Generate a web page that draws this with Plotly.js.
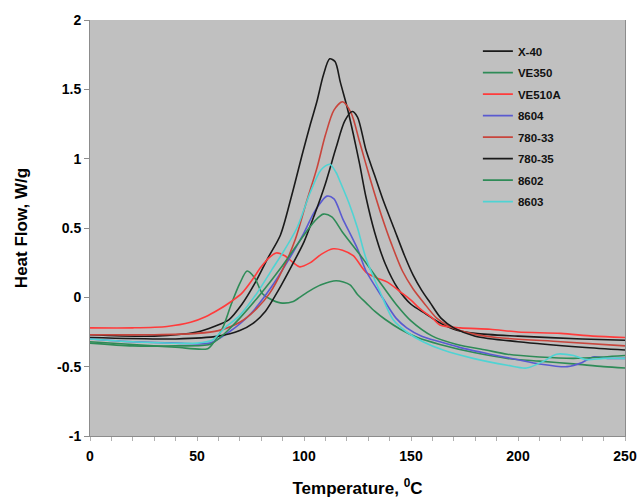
<!DOCTYPE html>
<html><head><meta charset="utf-8">
<script src="https://cdn.plot.ly/plotly-3.0.1.min.js"></script>
<style>html,body{margin:0;padding:0;background:#fff}#chart{width:638px;height:498px}</style>
</head><body><div id="chart"></div>
<script>
const seriesNames = ["X-40","VE350","VE510A","8604","780-33","780-35","8602","8603"];
const seriesColors = ["#1a1a1a","#2e8b57","#ff3b3b","#5a5ad0","#c8453c","#1a1a1a","#2e8b57","#4fd3d3"];

const x40_T = [0,30,50,58,65,71,77,83,89,94,99.5,103,106,109,112,114.5,117,120,123,126,129,133,138,144,150,157,163,170,180,200,230,250];
const x40_H = [-0.27,-0.28,-0.25,-0.21,-0.16,-0.05,0.1,0.28,0.45,0.72,1.05,1.25,1.41,1.6,1.72,1.7,1.55,1.38,1.18,0.96,0.72,0.47,0.24,0.06,-0.05,-0.12,-0.18,-0.23,-0.26,-0.28,-0.3,-0.31];

const ve350_T = [0,20,40,55,58,62,66,70,73.4,77,80.4,84,89,95,98,103,108,115,121.5,125,129,133,138,145,153,163.5,180,195,210,226,240,250];
const ve350_H = [-0.32,-0.34,-0.36,-0.37,-0.32,-0.22,-0.05,0.1,0.19,0.14,0.03,-0.01,-0.04,-0.03,0.0,0.05,0.09,0.12,0.09,0.02,-0.04,-0.1,-0.16,-0.23,-0.29,-0.34,-0.4,-0.44,-0.46,-0.48,-0.5,-0.51];

const ve510_T = [0,20,36,47,54,60,66,71,76,80,84,87,91,95,98,103,108,113.6,118,123,129,134,139,145,150,154,160,163.5,173,187,200,220,235,250];
const ve510_H = [-0.22,-0.22,-0.21,-0.18,-0.14,-0.09,-0.03,0.03,0.13,0.22,0.29,0.32,0.3,0.25,0.22,0.25,0.31,0.35,0.34,0.3,0.18,0.14,0.11,0.04,-0.02,-0.08,-0.15,-0.2,-0.22,-0.23,-0.25,-0.26,-0.28,-0.29];

const b8604_T = [0,20,40,56,65,75,85,92,99.5,105,110.7,114,118,125,129,137,143,148,155,163.5,175,187,200,210,223,230,235,242,250];
const b8604_H = [-0.3,-0.32,-0.33,-0.33,-0.25,-0.12,0.08,0.25,0.45,0.62,0.73,0.71,0.57,0.35,0.19,-0.01,-0.15,-0.22,-0.28,-0.32,-0.37,-0.41,-0.45,-0.48,-0.5,-0.47,-0.43,-0.44,-0.44];

const m33_T = [0,30,50,60,70,78,84,90,96,101,106,110,114,118,122,126,131,136,141,146,151,156,162,168,178,190,220,250];
const m33_H = [-0.27,-0.27,-0.26,-0.24,-0.18,-0.08,0.03,0.2,0.42,0.68,0.93,1.17,1.35,1.41,1.33,1.12,0.85,0.6,0.38,0.19,0.06,-0.04,-0.15,-0.21,-0.26,-0.29,-0.32,-0.35];

const m35_T = [0,40,60,70,76,82,88,94,100,105,110,115,119,122.5,125,129,133,137,142,147,151,155,159,164,170,180,200,230,250];
const m35_H = [-0.29,-0.3,-0.28,-0.24,-0.19,-0.1,0.05,0.22,0.4,0.6,0.82,1.08,1.27,1.34,1.3,1.06,0.88,0.7,0.5,0.3,0.16,0.05,-0.04,-0.15,-0.22,-0.28,-0.32,-0.36,-0.38];

const g8602_T = [0,20,40,56,60,65,70,80,90,100,105,109,113,118,126,134,143,150,160,171.5,185,195,210,226,240,250];
const g8602_H = [-0.33,-0.35,-0.35,-0.34,-0.3,-0.23,-0.15,0.03,0.23,0.45,0.55,0.6,0.58,0.47,0.31,0.14,-0.05,-0.17,-0.28,-0.34,-0.38,-0.41,-0.43,-0.44,-0.43,-0.42];

const c8603_T = [0,20,50,57,63,70,78,85,90,96.7,103,108,112,115,117,121,125,129,135.5,141.6,148,155.6,165,179,195,204,212,218,226,232,240,250];
const c8603_H = [-0.3,-0.32,-0.33,-0.31,-0.22,-0.13,0.03,0.2,0.32,0.5,0.76,0.92,0.96,0.9,0.83,0.68,0.5,0.28,0.04,-0.16,-0.25,-0.32,-0.38,-0.44,-0.49,-0.51,-0.46,-0.41,-0.42,-0.45,-0.44,-0.44];

const yTickVals = [-1,-0.5,0,0.5,1,1.5,2];
const yTickText = ["-1","-0.5","0","0.5","1","1.5","2"];
const xTickVals = [0,50,100,150,200,250];
const xTickText = ["0","50","100","150","200","250"];

const xsData = [x40_T, ve350_T, ve510_T, b8604_T, m33_T, m35_T, g8602_T, c8603_T];
const ysData = [x40_H, ve350_H, ve510_H, b8604_H, m33_H, m35_H, g8602_H, c8603_H];

const traces = seriesNames.map((n,i)=>({
  x: xsData[i], y: ysData[i], name: n, type:'scatter', mode:'lines', legendgroup:'g'+i,
  line:{color:seriesColors[i], width:1.6, shape:'spline', smoothing:0.8}
}));

const fontFam = '"Liberation Sans", Arial, sans-serif';
const layout = {
  width:638, height:498,
  margin:{l:90, r:13, t:20, b:62},
  paper_bgcolor:'#ffffff', plot_bgcolor:'#c0c0c0',
  font:{family:fontFam, color:'#000'},
  showlegend:true,
  legend:{x:0.725, y:0.96, xanchor:'left', yanchor:'top', bgcolor:'rgba(0,0,0,0)',
    font:{family:fontFam, size:11.5, color:'#111', weight:'bold'}, tracegroupgap:2.5, itemwidth:30},
  xaxis:{range:[0,250], tickmode:'array', tickvals:xTickVals, ticktext:xTickText, showgrid:false, zeroline:false,
    showline:true, linecolor:'#8c8c8c', linewidth:1, ticks:'outside', ticklen:4, tickcolor:'#b0b0b0',
    ticklabelstandoff:3,
    minor:{dtick:10, tick0:0, ticks:'outside', ticklen:4, tickcolor:'#b0b0b0', showgrid:false},
    tickfont:{family:fontFam, size:14, weight:'bold'},
    title:{text:'Temperature, <sup>0</sup>C', font:{family:fontFam, size:17, weight:'bold'}, standoff:19}},
  yaxis:{range:[-1,2], tickmode:'array', tickvals:yTickVals, ticktext:yTickText, showgrid:false, zeroline:false,
    showline:true, mirror:true, linecolor:'#8c8c8c', linewidth:1, ticks:'outside', ticklen:5, tickcolor:'#8c8c8c',
    tickfont:{family:fontFam, size:14, weight:'bold'},
    title:{text:'Heat Flow, W/g', font:{family:fontFam, size:17, weight:'bold'}, standoff:25}}
};
Plotly.newPlot('chart', traces, layout, {displayModeBar:false, staticPlot:true});
</script></body></html>
